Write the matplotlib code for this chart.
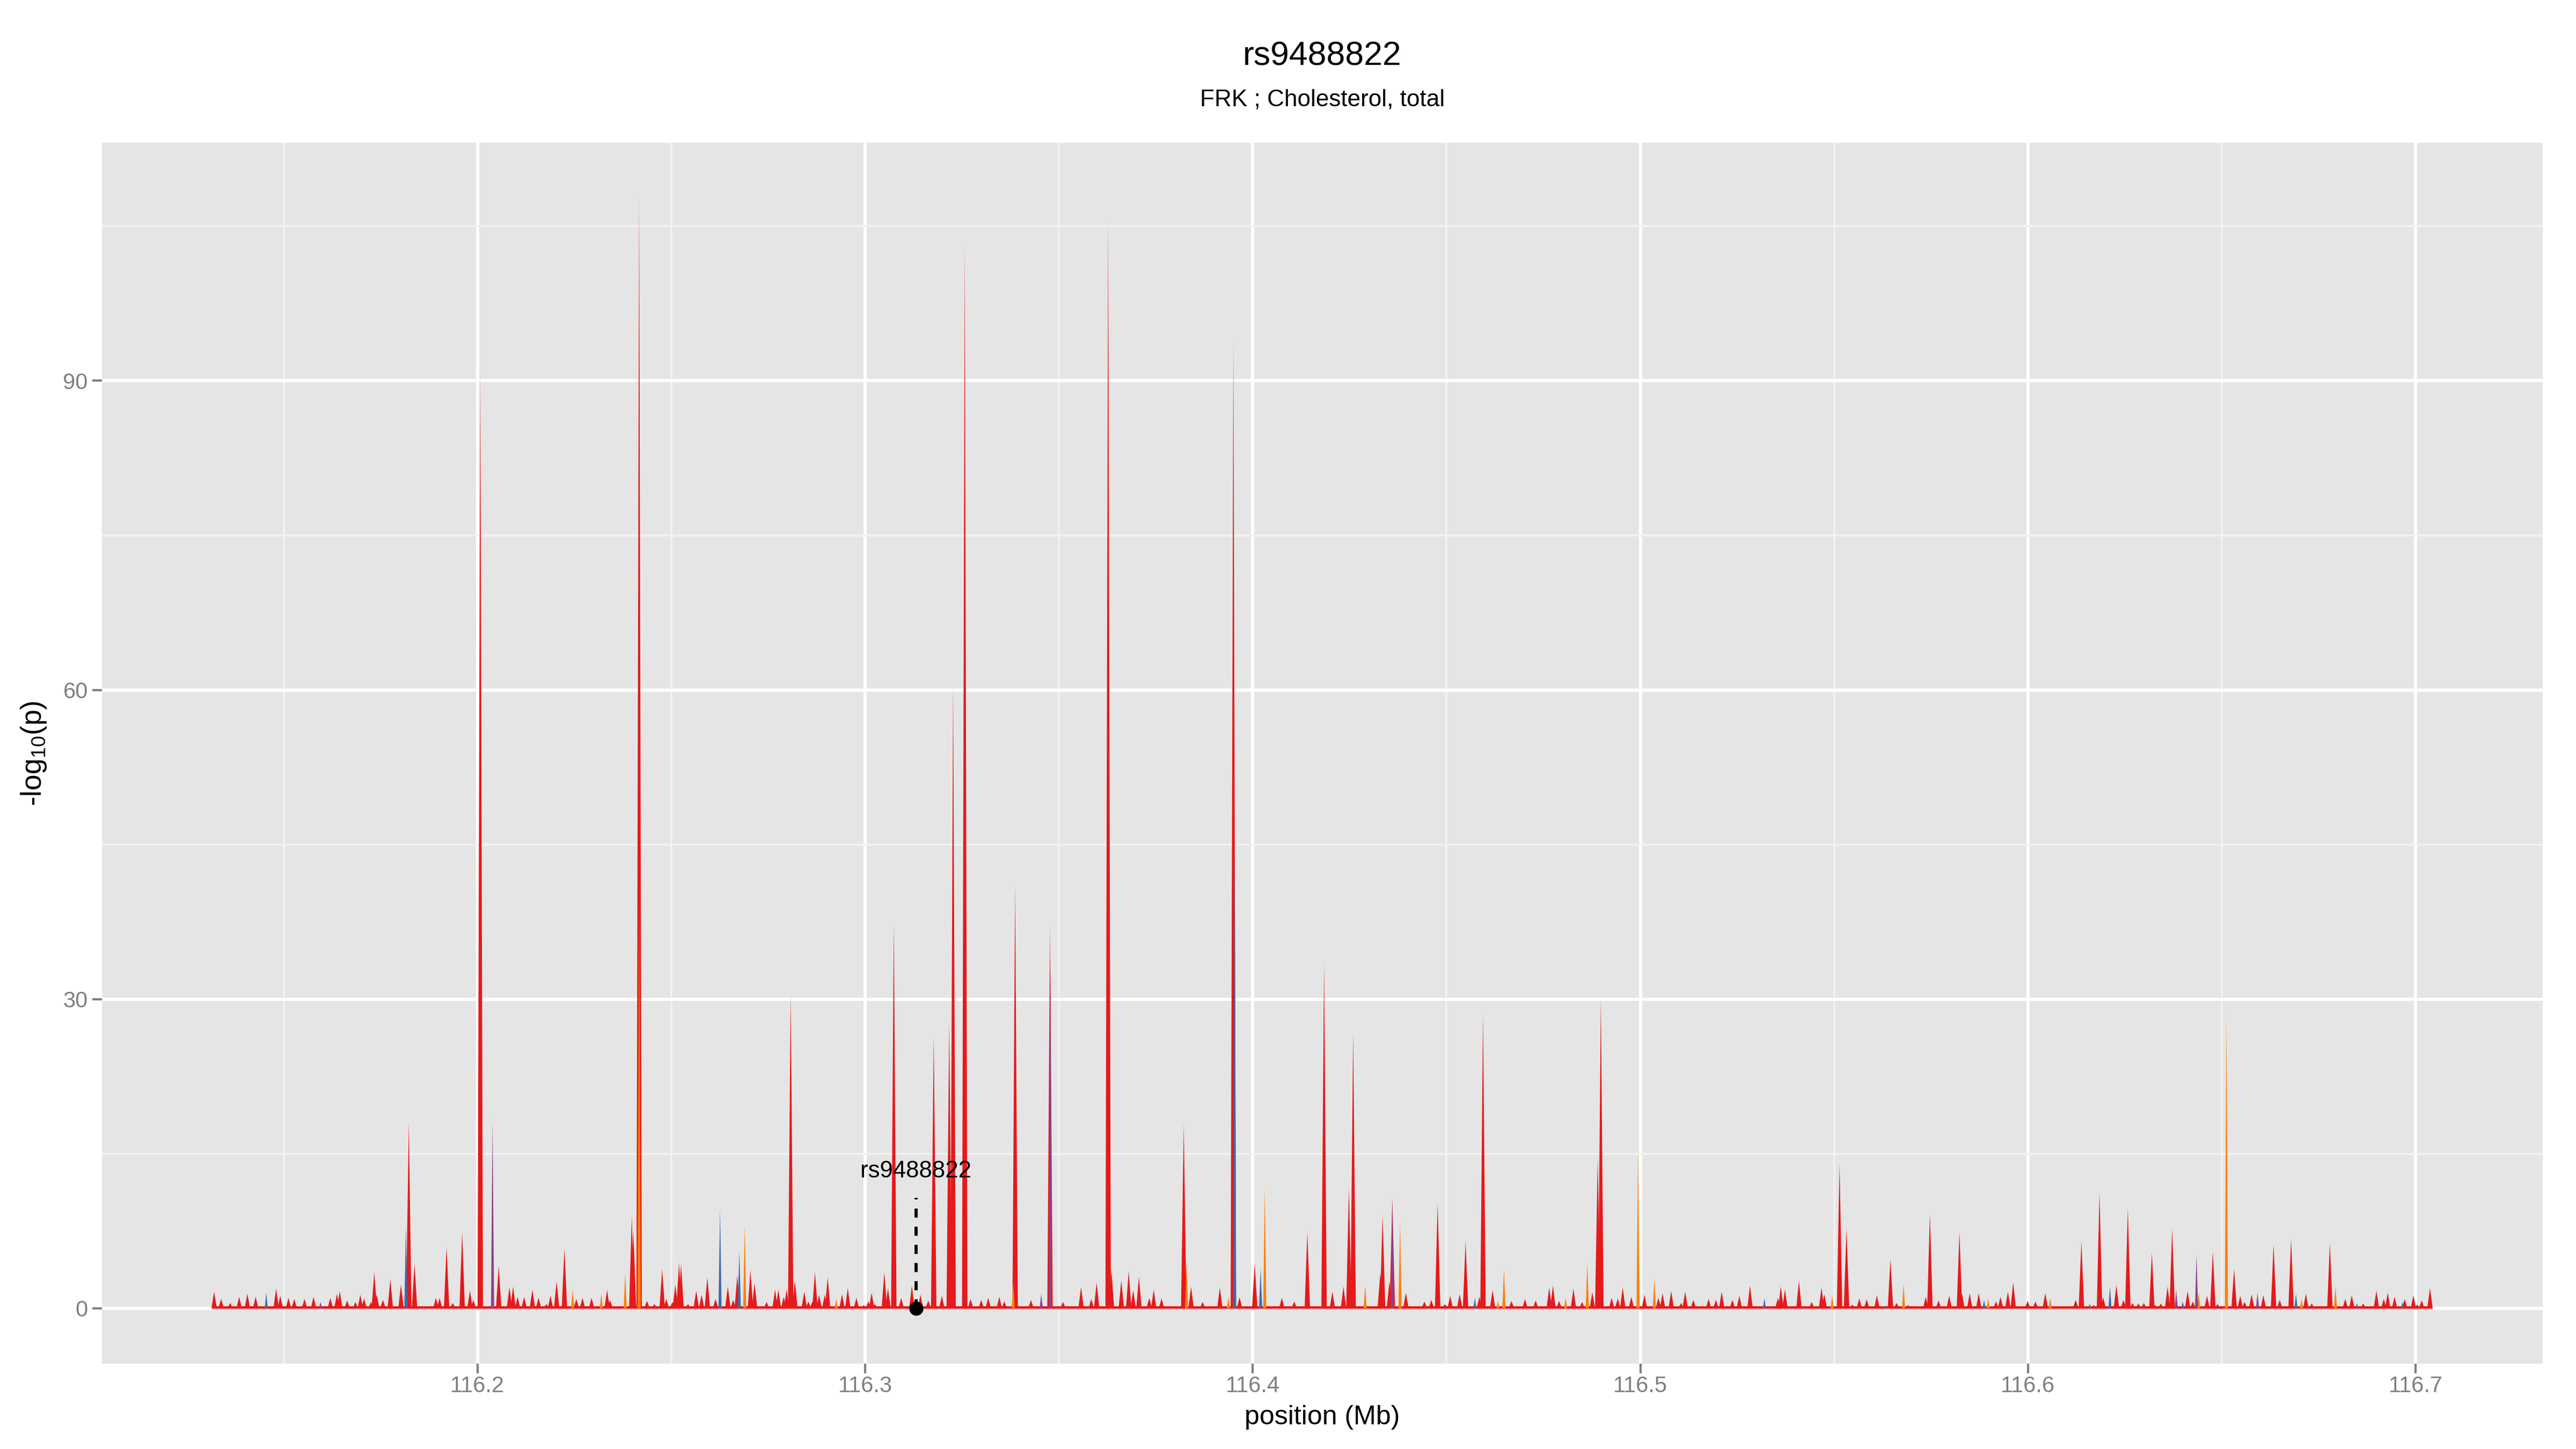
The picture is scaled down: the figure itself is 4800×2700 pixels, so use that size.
import matplotlib
matplotlib.use("Agg")
import matplotlib.pyplot as plt
from matplotlib.collections import PolyCollection

plt.rcParams["font.family"] = ["Liberation Sans", "DejaVu Sans"]
plt.rcParams["mathtext.default"] = "regular"

TITLE = "rs9488822"
SUBTITLE = "FRK ; Cholesterol, total"
SNP_LABEL = "rs9488822"
SNP_POS = 116.3131

# red association track: peak position (Mb) and -log10(p)
red_pos = [
    116.13207, 116.13387, 116.1362, 116.13853, 116.14064, 116.14277, 116.14806, 116.14913,
    116.15125, 116.15273, 116.15537, 116.15771, 116.16204, 116.16375, 116.16448, 116.16639,
    116.16851, 116.16978, 116.17074, 116.17254, 116.17338, 116.17402, 116.17561, 116.17752,
    116.18027, 116.18228, 116.18376, 116.18927, 116.19023, 116.19203, 116.19362, 116.19605,
    116.19806, 116.19892, 116.20072, 116.20548, 116.20824, 116.20919, 116.21035, 116.21204,
    116.21417, 116.21575, 116.21777, 116.21883, 116.22042, 116.22243, 116.2255, 116.22709,
    116.22943, 116.23344, 116.23419, 116.23981, 116.24023, 116.2417, 116.24373, 116.24564,
    116.24765, 116.24871, 116.25029, 116.25104, 116.25199, 116.25252, 116.25432, 116.25644,
    116.25782, 116.2593, 116.26142, 116.26459, 116.26597, 116.26703, 116.27042, 116.27148,
    116.27456, 116.27677, 116.27763, 116.279, 116.27975, 116.2808, 116.28187, 116.2843,
    116.28537, 116.28642, 116.28706, 116.28812, 116.2896, 116.29034, 116.29405, 116.29553,
    116.29776, 116.29967, 116.30083, 116.30168, 116.30252, 116.30496, 116.30591, 116.3074,
    116.30931, 116.31206, 116.31429, 116.3163, 116.3177, 116.3198, 116.3217, 116.3222,
    116.3227, 116.3257, 116.32721, 116.32996, 116.33177, 116.33462, 116.3359, 116.3387,
    116.34278, 116.3477, 116.35104, 116.35571, 116.35835, 116.35973, 116.3627, 116.36354,
    116.36609, 116.368, 116.36916, 116.37064, 116.3733, 116.37446, 116.37647, 116.3822,
    116.38409, 116.38706, 116.39151, 116.395, 116.3966, 116.40051, 116.4075, 116.41069,
    116.41408, 116.4184, 116.42054, 116.4234, 116.4248, 116.4259, 116.4329, 116.4335,
    116.43526, 116.436, 116.4395, 116.44427, 116.44607, 116.4477, 116.44957, 116.45094,
    116.45338, 116.4549, 116.45847, 116.4594, 116.46187, 116.46674, 116.47023, 116.47298,
    116.47648, 116.47744, 116.47902, 116.48273, 116.48496, 116.4876, 116.489, 116.4898,
    116.49258, 116.49417, 116.49545, 116.49767, 116.50106, 116.50466, 116.50572, 116.50795,
    116.51049, 116.51155, 116.51367, 116.51759, 116.5195, 116.52098, 116.52373, 116.52553,
    116.52828, 116.53548, 116.53623, 116.53729, 116.5409, 116.54418, 116.54673, 116.54746,
    116.55138, 116.55318, 116.55466, 116.55647, 116.55837, 116.56102, 116.56451, 116.5661,
    116.56907, 116.57362, 116.57469, 116.57691, 116.57967, 116.58231, 116.58295, 116.58496,
    116.58729, 116.59174, 116.5929, 116.59481, 116.59618, 116.5999, 116.60191, 116.60445,
    116.60933, 116.61229, 116.61377, 116.61693, 116.61844, 116.61939, 116.6228, 116.62463,
    116.62575, 116.62694, 116.62845, 116.62988, 116.63195, 116.63282, 116.63425, 116.636,
    116.63719, 116.64117, 116.64252, 116.64617, 116.64768, 116.64887, 116.65316, 116.65475,
    116.65586, 116.65769, 116.66071, 116.66334, 116.66493, 116.66786, 116.67168, 116.67319,
    116.67787, 116.68184, 116.68352, 116.68645, 116.68987, 116.69178, 116.6928, 116.69456,
    116.69718, 116.69941, 116.70036, 116.70155, 116.7037,
]
red_val = [
    1.6, 0.9, 0.5, 1.1, 1.4, 1.1, 1.9, 1.2,
    1.0, 0.9, 0.9, 1.1, 1.0, 1.4, 1.65, 0.75,
    0.6, 1.3, 0.95, 0.6, 3.5, 1.3, 0.8, 2.8,
    2.3, 18.0, 4.3, 1.0, 1.0, 5.9, 0.5, 7.4,
    1.7, 0.8, 91.1, 4.1, 2.05, 2.1, 1.1, 1.1,
    1.8, 1.0, 0.4, 1.2, 2.6, 5.8, 0.9, 1.0,
    1.0, 1.75, 0.8, 8.9, 7.5, 107.8, 0.7, 0.4,
    3.8, 0.9, 0.6, 2.3, 4.4, 4.3, 0.4, 1.7,
    1.3, 3.0, 0.9, 2.1, 0.8, 3.2, 3.7, 2.45,
    0.6, 1.8, 1.8, 1.1, 1.8, 30.5, 2.7, 1.6,
    0.65, 0.65, 3.5, 1.3, 1.3, 3.0, 1.35, 1.95,
    1.0, 0.3, 0.65, 1.5, 0.4, 3.5, 1.95, 37.5,
    1.0, 2.2, 1.3, 0.75, 26.5, 1.2, 27.8, 9.0,
    60.6, 103.5, 0.9, 0.8, 1.0, 1.1, 0.65, 41.0,
    0.8, 37.0, 0.6, 2.05, 0.9, 2.5, 105.8, 3.7,
    2.7, 3.6, 1.75, 3.05, 1.0, 1.8, 0.95, 17.9,
    2.1, 0.6, 2.0, 93.9, 1.05, 4.35, 1.0, 0.65,
    7.4, 33.6, 1.6, 2.1, 11.7, 26.7, 3.4, 9.0,
    2.6, 10.6, 1.5, 0.65, 0.8, 10.2, 0.4, 1.2,
    1.35, 6.5, 1.1, 28.5, 1.75, 0.7, 0.9, 0.75,
    2.0, 2.2, 0.7, 1.9, 0.6, 1.55, 14.6, 30.2,
    1.0, 0.95, 2.0, 1.1, 1.3, 1.0, 1.45, 1.65,
    0.5, 1.6, 0.8, 0.9, 0.8, 1.6, 0.8, 1.2,
    2.2, 1.0, 2.1, 1.8, 2.65, 0.6, 2.0, 1.35,
    14.0, 7.7, 0.35, 0.95, 0.85, 1.25, 4.75, 0.5,
    0.3, 1.1, 9.2, 0.75, 1.2, 7.4, 1.45, 1.45,
    1.45, 0.65, 1.1, 1.6, 2.5, 0.7, 0.65, 1.45,
    0.2, 0.8, 6.5, 0.3, 11.25, 1.05, 2.25, 0.8,
    9.7, 0.5, 0.45, 0.5, 5.35, 0.3, 0.45, 2.1,
    7.7, 1.65, 0.65, 1.2, 5.5, 0.4, 3.8, 1.2,
    0.6, 1.35, 1.25, 6.2, 0.8, 6.75, 1.4, 0.45,
    6.3, 0.9, 1.25, 0.45, 1.7, 0.9, 1.5, 1.1,
    0.9, 1.25, 0.35, 0.75, 1.95,
]

orange_pos = [
    116.22456, 116.23196, 116.23811, 116.2417, 116.26894, 116.29257, 116.33822, 116.38293,
    116.39373, 116.4031, 116.429, 116.438, 116.46324, 116.4648, 116.48072, 116.4863,
    116.4994, 116.5036, 116.54948, 116.5679, 116.58973, 116.60572, 116.64403, 116.65118,
    116.67056, 116.67931,
]
orange_val = [
    1.8, 1.4, 3.4, 40.0, 8.0, 0.9, 2.5, 4.5,
    1.05, 11.7, 2.2, 8.3, 0.7, 3.8, 1.0, 4.4,
    15.2, 2.8, 1.2, 2.3, 0.95, 1.0, 1.5, 28.5,
    0.9, 2.1,
]

blue_pos = [
    116.14551, 116.18153, 116.26258, 116.26755, 116.39533, 116.40203, 116.4573, 116.532,
    116.56335, 116.58866, 116.61589, 116.62114, 116.6399, 116.66913, 116.69662,
]
blue_val = [1.5, 8.0, 9.6, 5.6, 45.6, 3.9, 1.0, 0.95, 0.25, 0.8, 0.4, 2.1, 0.65, 1.4, 0.6]

purple_pos = [116.15951, 116.20389, 116.34543, 116.3478, 116.436, 116.63822, 116.64347, 116.6592, 116.68486]
purple_val = [0.6, 18.3, 1.35, 33.0, 10.6, 1.75, 5.2, 1.5, 0.45]

DATA_START = 116.13176
DATA_END = 116.70417
BASE_LEVEL = 0.2

RED = "#E41A1C"
ORANGE = "#FF7F00"
BLUE = "#3F6AA8"
PURPLE = "#8E4091"


def spikes(pos, val, hw):
    return [[(p - hw, 0.0), (p, v), (p + hw, 0.0)] for p, v in zip(pos, val)]


fig = plt.figure(figsize=(16, 9), dpi=300)
ax = fig.add_axes([0.0396, 0.0589, 0.9475, 0.8426])
ax.set_facecolor("#E5E5E5")
for s in ax.spines.values():
    s.set_visible(False)

ax.set_xlim(116.10314, 116.73279)
ax.set_ylim(-5.385, 113.1)

ax.set_xticks([116.2, 116.3, 116.4, 116.5, 116.6, 116.7])
ax.set_xticklabels(["116.2", "116.3", "116.4", "116.5", "116.6", "116.7"])
ax.set_xticks([116.15, 116.25, 116.35, 116.45, 116.55, 116.65], minor=True)
ax.set_yticks([0, 30, 60, 90])
ax.set_yticks([15, 45, 75, 105], minor=True)
ax.grid(which="major", color="white", linewidth=1.45)
ax.grid(which="minor", color="#F2F2F2", linewidth=0.9)
ax.set_axisbelow(True)
ax.tick_params(which="major", length=4.3, width=1.0, color="#7F7F7F",
               labelcolor="#7F7F7F", labelsize=10, pad=2)
ax.tick_params(axis="x", which="major", pad=1)
ax.tick_params(which="minor", length=0)

# baseline band and zero line along the data range
ax.plot([DATA_START, DATA_END], [0, 0], color="#EE8A8A", linewidth=1.0, zorder=2)
ax.fill_between([DATA_START, DATA_END], 0, BASE_LEVEL, color=RED, linewidth=0, zorder=3)

ax.add_collection(PolyCollection(spikes(red_pos, red_val, 0.0007), facecolors=RED,
                                 edgecolors="none", zorder=3))
for pos, val, col in [(orange_pos, orange_val, ORANGE), (blue_pos, blue_val, BLUE),
                      (purple_pos, purple_val, PURPLE)]:
    ax.add_collection(PolyCollection(spikes(pos, val, 0.0004), facecolors=col,
                                     edgecolors="none", zorder=4))

# lead SNP marker
ax.plot([SNP_POS, SNP_POS], [0, 10.7], color="black", linewidth=1.4,
        dashes=(2.9, 2.9), zorder=6)
ax.plot([SNP_POS], [0], "o", color="black", markersize=5.3, zorder=7)
ax.text(SNP_POS, 12.2, SNP_LABEL, ha="center", va="bottom", fontsize=10.5, zorder=7)

ax.set_xlabel("position (Mb)", fontsize=12)
ax.xaxis.set_label_coords(0.5, -0.034)
ax.set_ylabel(r"-log$_{10}$(p)", fontsize=12.8)
ax.yaxis.set_label_coords(-0.022, 0.5)

panel_mid = 0.0396 + 0.9475 / 2
fig.text(panel_mid, 0.961, TITLE, ha="center", va="center", fontsize=15)
fig.text(panel_mid, 0.931, SUBTITLE, ha="center", va="center", fontsize=10.6)

fig.savefig("out.png", dpi=300)
